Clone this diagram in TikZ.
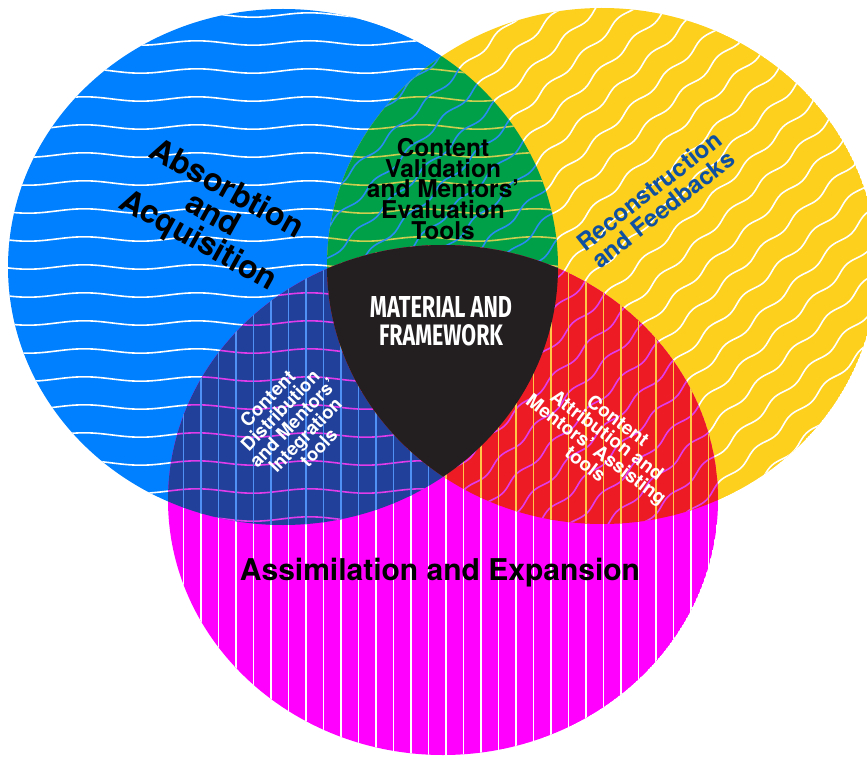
\documentclass[tikz,border=0pt]{standalone}
\usepackage{fontspec}
\usepackage{graphicx}
\setmainfont{TeX Gyre Heros}
\newfontfamily\condfont{Fira Sans}
\definecolor{cblue}{RGB}{0,128,255}
\definecolor{cyellow}{RGB}{253,208,30}
\definecolor{cmag}{RGB}{255,0,255}
\definecolor{cgreen}{RGB}{0,160,72}
\definecolor{cdblue}{RGB}{33,64,153}
\definecolor{cred}{RGB}{237,28,36}
\definecolor{cblack}{RGB}{35,31,32}
\definecolor{ctxtblue}{RGB}{16,80,160}
\definecolor{wyel}{RGB}{205,205,80}
\definecolor{wblu}{RGB}{40,140,240}
\definecolor{wmag}{RGB}{225,60,235}
\definecolor{vblu}{RGB}{80,145,245}
\definecolor{vyel}{RGB}{255,200,70}
\newcommand{\blueshape}{(283,267) ellipse [x radius=275, y radius=258]}
\newcommand{\yellowshape}{(602,266) ellipse [x radius=275, y radius=258]}
\newcommand{\magshape}{(443,500) ellipse [x radius=275, y radius=255]}
\newcommand{\hwaves}[1]{%
  \foreach \k in {0,...,19}{%
    \draw[#1, line width=1.6pt] plot[domain=0:570, samples=80, smooth, variable=\t] (\t,{15+28*\k+2.2*sin(\t*3.2)});
  }}
\newcommand{\dwaves}[1]{%
  \begin{scope}[shift={(602,266)}, rotate=43]
  \foreach \k in {-16,...,16}{%
    \draw[#1, line width=1.6pt] plot[domain=-400:400, samples=140, smooth, variable=\t] (\t,{24*\k+2.4*sin(\t*7.5)});
  }
  \end{scope}}
\newcommand{\vlines}[1]{%
  \foreach \k in {0,...,32}{%
    \draw[#1, line width=1.4pt] ({166+17.5*\k},230) -- ++(0,540);
  }}
\tikzset{
  lbl/.style={align=center, inner sep=0pt},
}
\begin{document}
\begin{tikzpicture}[x=1pt,y=-1pt]
\useasboundingbox (0,0) rectangle (867,759);
\clip (0,0) rectangle (867,759);
% base circles
\begin{scope}
  \clip \blueshape;
  \fill[cblue] \blueshape;
  \hwaves{white}
\end{scope}
\begin{scope}
  \clip \yellowshape;
  \fill[cyellow] \yellowshape;
  \dwaves{white}
\end{scope}
\begin{scope}
  \clip \magshape;
  \fill[cmag] \magshape;
  \vlines{white}
\end{scope}
% blue & yellow
\begin{scope}
  \clip \blueshape;
  \clip \yellowshape;
  \fill[cgreen] (0,0) rectangle (867,759);
  \hwaves{wyel}
  \dwaves{wblu}
\end{scope}
% blue & magenta
\begin{scope}
  \clip \blueshape;
  \clip \magshape;
  \fill[cdblue] (0,0) rectangle (867,759);
  \hwaves{wmag}
  \vlines{vblu}
\end{scope}
% yellow & magenta
\begin{scope}
  \clip \yellowshape;
  \clip \magshape;
  \fill[cred] (0,0) rectangle (867,759);
  \dwaves{wmag}
  \vlines{vyel}
\end{scope}
% all three
\begin{scope}
  \clip \blueshape;
  \clip \yellowshape;
  \clip \magshape;
  \fill[cblack] (0,0) rectangle (867,759);
\end{scope}
% labels
\node[lbl, rotate=-29, font=\bfseries\fontsize{32}{29.5}\selectfont] (absorb) at (212,216) {Absorbtion\\and\\Acquisition};
\node[lbl, rotate=38, text=ctxtblue, font=\bfseries\fontsize{24}{23}\selectfont] (recon) at (656,200) {Reconstruction\\and Feedbacks};
\node[lbl, font=\bfseries\fontsize{24.5}{20.7}\selectfont] (valid) at (443,189) {Content\\Validation\\and Mentors’\\Evaluation\\Tools};
\node[lbl, text=white, font=\fontsize{20}{28}\selectfont] (material) at (441,321.5) {\resizebox{142pt}{21pt}{\condfont\bfseries MATERIAL AND}\\\resizebox{124pt}{21pt}{\condfont\bfseries FRAMEWORK}};
\node[lbl, rotate=46, text=white, font=\bfseries\fontsize{18.5}{17.5}\selectfont] (distrib) at (293,423) {Content\\Distribution\\and Mentors’\\Integration\\tools};
\node[lbl, rotate=-37, text=white, font=\bfseries\fontsize{19}{18}\selectfont] (attrib) at (602,442) {Content\\Attribution and\\Mentors’ Assisting\\tools};
\node[lbl, font=\bfseries\fontsize{30}{30}\selectfont] (assim) at (440,573) {Assimilation and Expansion};
\end{tikzpicture}
\end{document}
